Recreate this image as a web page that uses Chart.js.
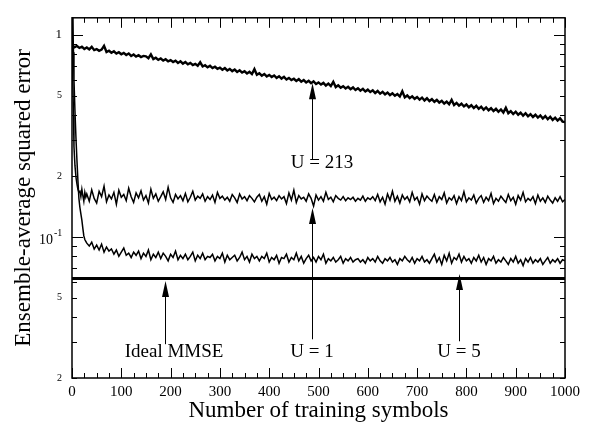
<!DOCTYPE html>
<html>
<head>
<meta charset="utf-8">
<script src="https://cdn.jsdelivr.net/npm/chart.js@4/dist/chart.umd.min.js"></script>
<style>
  html, body { margin: 0; padding: 0; background: #fff; }
</style>
</head>
<body>
<canvas id="mse-chart" width="601" height="425"></canvas>
<script>
const SERIF = "'Liberation Serif', 'Times New Roman', serif";

// sample positions (number of training symbols)
const u213Symbols = Array.from({length: 201}, (_, i) => i * 5);
const headSymbols = [0, 1, 2, 3, 4, 6, 8, 10, 12, 14, 16, 18, 20, 22, 24, 26, 28];
const adaptSymbols = headSymbols.concat(Array.from({length: 195}, (_, i) => 30 + i * 5));
const idealSymbols = [0, 1000];

// ensemble-average squared error
const u213Error = [
  0.889,0.868,0.880,0.861,0.874,0.851,0.866,0.847,0.872,0.840,
  0.850,0.833,0.845,0.882,0.822,0.834,0.815,0.829,0.808,0.820,
  0.801,0.814,0.795,0.808,0.786,0.799,0.780,0.792,0.776,0.786,
  0.782,0.766,0.800,0.758,0.770,0.752,0.763,0.745,0.757,0.739,
  0.749,0.733,0.745,0.726,0.739,0.720,0.733,0.714,0.726,0.709,
  0.718,0.703,0.731,0.697,0.707,0.690,0.702,0.684,0.695,0.679,
  0.688,0.672,0.684,0.666,0.678,0.661,0.673,0.655,0.667,0.650,
  0.660,0.644,0.656,0.639,0.676,0.634,0.645,0.628,0.640,0.622,
  0.633,0.618,0.629,0.612,0.624,0.607,0.619,0.601,0.612,0.597,
  0.606,0.591,0.603,0.586,0.597,0.581,0.592,0.576,0.588,0.571,
  0.581,0.567,0.578,0.561,0.573,0.557,0.585,0.551,0.562,0.547,
  0.557,0.543,0.553,0.538,0.549,0.533,0.544,0.529,0.540,0.524,
  0.535,0.521,0.531,0.515,0.527,0.511,0.522,0.507,0.518,0.503,
  0.513,0.499,0.509,0.495,0.525,0.490,0.501,0.486,0.496,0.482,
  0.492,0.478,0.489,0.473,0.485,0.470,0.480,0.466,0.476,0.462,
  0.471,0.457,0.467,0.453,0.476,0.449,0.460,0.446,0.456,0.442,
  0.452,0.438,0.448,0.434,0.445,0.430,0.441,0.426,0.437,0.423,
  0.433,0.419,0.430,0.416,0.427,0.412,0.435,0.409,0.419,0.405,
  0.416,0.402,0.412,0.398,0.409,0.395,0.405,0.392,0.402,0.389,
  0.399,0.385,0.396,0.382,0.393,0.379,0.389,0.376,0.386,0.372,
  0.370
];

const u1Error = [
  3.0,1.2,0.62,0.40,0.28,0.225,0.198,0.183,0.172,0.166,0.168,0.158,0.172,0.160,0.150,0.166,0.157,
  0.163,0.150,0.171,0.155,0.147,0.168,0.158,0.178,0.149,0.161,
  0.154,0.166,0.145,0.170,0.157,0.162,0.151,0.174,0.158,0.148,
  0.165,0.156,0.169,0.152,0.160,0.147,0.172,0.155,0.163,0.150,
  0.158,0.167,0.153,0.176,0.156,0.148,0.162,0.154,0.160,0.151,
  0.164,0.149,0.157,0.168,0.152,0.159,0.155,0.163,0.150,0.158,
  0.153,0.161,0.148,0.166,0.155,0.159,0.152,0.157,0.150,0.162,
  0.156,0.148,0.163,0.154,0.158,0.151,0.160,0.155,0.149,0.157,
  0.162,0.150,0.158,0.145,0.164,0.153,0.157,0.151,0.160,0.154,
  0.158,0.146,0.165,0.152,0.170,0.148,0.160,0.154,0.157,0.150,
  0.163,0.155,0.142,0.161,0.152,0.158,0.150,0.166,0.153,0.157,
  0.149,0.160,0.155,0.152,0.158,0.151,0.156,0.153,0.157,0.150,
  0.155,0.152,0.159,0.150,0.156,0.153,0.158,0.151,0.162,0.149,
  0.157,0.145,0.163,0.152,0.168,0.150,0.159,0.147,0.161,0.153,
  0.158,0.149,0.166,0.152,0.157,0.145,0.163,0.151,0.159,0.154,
  0.150,0.162,0.148,0.158,0.153,0.165,0.147,0.156,0.152,0.160,
  0.146,0.158,0.151,0.167,0.149,0.156,0.152,0.161,0.147,0.155,
  0.160,0.148,0.157,0.151,0.164,0.146,0.155,0.150,0.159,0.153,
  0.148,0.162,0.151,0.157,0.145,0.160,0.152,0.166,0.149,0.155,
  0.151,0.158,0.146,0.161,0.150,0.156,0.148,0.159,0.152,0.147,
  0.156,0.150,0.158,0.149,0.153
];

const u5Error = [
  3.0,2.0,1.2,0.82,0.60,0.42,0.31,0.24,0.19,0.155,0.140,0.130,0.121,0.110,0.101,0.097,0.095,
  0.093,0.090,0.094,0.087,0.091,0.086,0.092,0.084,0.089,0.085,
  0.087,0.082,0.086,0.080,0.084,0.088,0.081,0.083,0.079,0.084,
  0.081,0.085,0.078,0.083,0.080,0.086,0.077,0.082,0.079,0.084,
  0.078,0.083,0.080,0.076,0.082,0.079,0.085,0.077,0.081,0.078,
  0.082,0.077,0.080,0.084,0.076,0.081,0.078,0.083,0.077,0.080,
  0.079,0.082,0.076,0.080,0.078,0.083,0.075,0.081,0.077,0.079,
  0.081,0.076,0.079,0.084,0.077,0.080,0.075,0.082,0.078,0.080,
  0.076,0.080,0.078,0.083,0.075,0.079,0.077,0.081,0.074,0.079,
  0.078,0.082,0.075,0.079,0.077,0.083,0.076,0.080,0.074,0.078,
  0.081,0.076,0.079,0.075,0.080,0.077,0.082,0.074,0.078,0.076,
  0.079,0.075,0.077,0.080,0.074,0.078,0.076,0.079,0.075,0.077,
  0.078,0.075,0.077,0.074,0.079,0.076,0.078,0.075,0.080,0.076,
  0.074,0.078,0.076,0.079,0.075,0.077,0.073,0.078,0.076,0.080,
  0.077,0.075,0.079,0.074,0.078,0.076,0.080,0.075,0.077,0.074,
  0.078,0.082,0.075,0.079,0.073,0.081,0.076,0.083,0.074,0.079,
  0.077,0.082,0.075,0.080,0.076,0.078,0.074,0.079,0.076,0.081,
  0.075,0.079,0.073,0.078,0.076,0.080,0.074,0.077,0.075,0.079,
  0.076,0.073,0.078,0.075,0.080,0.074,0.077,0.072,0.078,0.075,
  0.079,0.074,0.077,0.075,0.078,0.073,0.076,0.079,0.074,0.077,
  0.075,0.078,0.074,0.077,0.076
];

const idealError = [0.0622, 0.0622];

// axis ticks
const xTickValues = [0, 100, 200, 300, 400, 500, 600, 700, 800, 900, 1000];
const yTickValues = [0.02, 0.03, 0.04, 0.05, 0.06, 0.07, 0.08, 0.09, 0.1,
                     0.2, 0.3, 0.4, 0.5, 0.6, 0.7, 0.8, 0.9, 1];
const yTickLabels = {0.02: '2', 0.05: '5', 0.2: '2', 0.5: '5', 1: '1'};

// arrows (data coords) and their labels
const arrows = [
  {x: 487, tip: 0.575, tail: 0.242},
  {x: 487, tip: 0.139, tail: 0.0311},
  {x: 189, tip: 0.0605, tail: 0.0294},
  {x: 785, tip: 0.0654, tail: 0.0304}
];
const notes = [
  {text: 'U = 213', x: 507, y: 0.2316},
  {text: 'U = 1', x: 487, y: 0.0269},
  {text: 'Ideal MMSE', x: 207, y: 0.0269},
  {text: 'U = 5', x: 785, y: 0.0269}
];

const toPoints = (xs, ys) => xs.map((x, i) => ({x: x, y: ys[i]}));

const frameAndNotes = {
  id: 'frameAndNotes',
  afterDatasetsDraw(chart) {
    const {ctx, chartArea: a, scales: {x, y}} = chart;
    ctx.save();
    ctx.strokeStyle = '#000';
    ctx.fillStyle = '#000';

    // inward tick marks on all four sides
    ctx.lineWidth = 1;
    ctx.beginPath();
    for (let v = 0; v <= 1000; v += 25) {
      const px = Math.round(x.getPixelForValue(v)) + 0.5;
      const len = v % 100 === 0 ? 10 : 5;
      ctx.moveTo(px, a.bottom); ctx.lineTo(px, a.bottom - len);
      ctx.moveTo(px, a.top); ctx.lineTo(px, a.top + len);
    }
    yTickValues.forEach(v => {
      const py = Math.round(y.getPixelForValue(v)) + 0.5;
      const len = (v === 0.1 || v === 1) ? 11 : 5;
      ctx.moveTo(a.left, py); ctx.lineTo(a.left + len, py);
      ctx.moveTo(a.right, py); ctx.lineTo(a.right - len, py);
    });
    ctx.stroke();

    ctx.lineWidth = 1.5;
    ctx.strokeRect(a.left, a.top, a.width, a.height);

    // 10^-1 tick label
    const p01 = y.getPixelForValue(0.1);
    ctx.textBaseline = 'middle';
    ctx.textAlign = 'right';
    ctx.font = '14px ' + SERIF;
    ctx.fillText('10', 53, p01 + 4);
    ctx.textAlign = 'left';
    ctx.font = '10px ' + SERIF;
    ctx.fillText('-1', 54, p01 - 3);

    // arrows
    ctx.lineWidth = 1;
    arrows.forEach(ar => {
      const px = Math.round(x.getPixelForValue(ar.x)) + 0.5;
      const tipY = y.getPixelForValue(ar.tip);
      const tailY = y.getPixelForValue(ar.tail);
      ctx.beginPath();
      ctx.moveTo(px, tailY);
      ctx.lineTo(px, tipY + 8);
      ctx.stroke();
      ctx.beginPath();
      ctx.moveTo(px, tipY);
      ctx.lineTo(px - 3.5, tipY + 16);
      ctx.lineTo(px + 3.5, tipY + 16);
      ctx.closePath();
      ctx.fill();
    });

    ctx.textAlign = 'center';
    ctx.font = '19px ' + SERIF;
    notes.forEach(n => {
      ctx.fillText(n.text, x.getPixelForValue(n.x), y.getPixelForValue(n.y));
    });
    ctx.restore();
  }
};

new Chart(document.getElementById('mse-chart').getContext('2d'), {
  type: 'line',
  data: {
    datasets: [
      {label: 'U = 213', data: toPoints(u213Symbols, u213Error), borderColor: '#000', borderWidth: 2.4},
      {label: 'U = 1', data: toPoints(adaptSymbols, u1Error), borderColor: '#000', borderWidth: 1.5},
      {label: 'U = 5', data: toPoints(adaptSymbols, u5Error), borderColor: '#000', borderWidth: 1.5},
      {label: 'Ideal MMSE', data: toPoints(idealSymbols, idealError), borderColor: '#000', borderWidth: 3}
    ]
  },
  options: {
    responsive: false,
    animation: false,
    events: [],
    elements: {point: {radius: 0}, line: {tension: 0}},
    layout: {padding: {top: 8, right: 36, left: 0, bottom: 0}},
    plugins: {legend: {display: false}, tooltip: {enabled: false}},
    scales: {
      x: {
        type: 'linear', min: 0, max: 1000,
        afterBuildTicks: s => { s.ticks = xTickValues.map(v => ({value: v})); },
        afterFit: s => { s.height = 47; },
        grid: {display: false, drawTicks: false},
        border: {display: false},
        ticks: {color: '#000', font: {family: SERIF, size: 15}, padding: 5, maxRotation: 0,
                autoSkip: false, callback: v => String(v)},
        title: {display: true, text: 'Number of training symbols', color: '#000',
                font: {family: SERIF, size: 23, lineHeight: 1.2}, padding: {top: 0, bottom: 0}}
      },
      y: {
        type: 'logarithmic', min: 0.02, max: 1.214,
        afterBuildTicks: s => { s.ticks = yTickValues.map(v => ({value: v})); },
        afterFit: s => { s.width = 72; },
        grid: {display: false, drawTicks: false},
        border: {display: false},
        ticks: {color: '#000', padding: 10, autoSkip: false,
                font: c => ({family: SERIF, size: (c.tick && c.tick.value === 1) ? 13 : 10}),
                callback: v => yTickLabels[v] || ''},
        title: {display: true, text: 'Ensemble-average squared error', color: '#000',
                font: {family: SERIF, size: 23, lineHeight: 1.2}, padding: {top: 10, bottom: 0}}
      }
    }
  },
  plugins: [frameAndNotes]
});
</script>
</body>
</html>
